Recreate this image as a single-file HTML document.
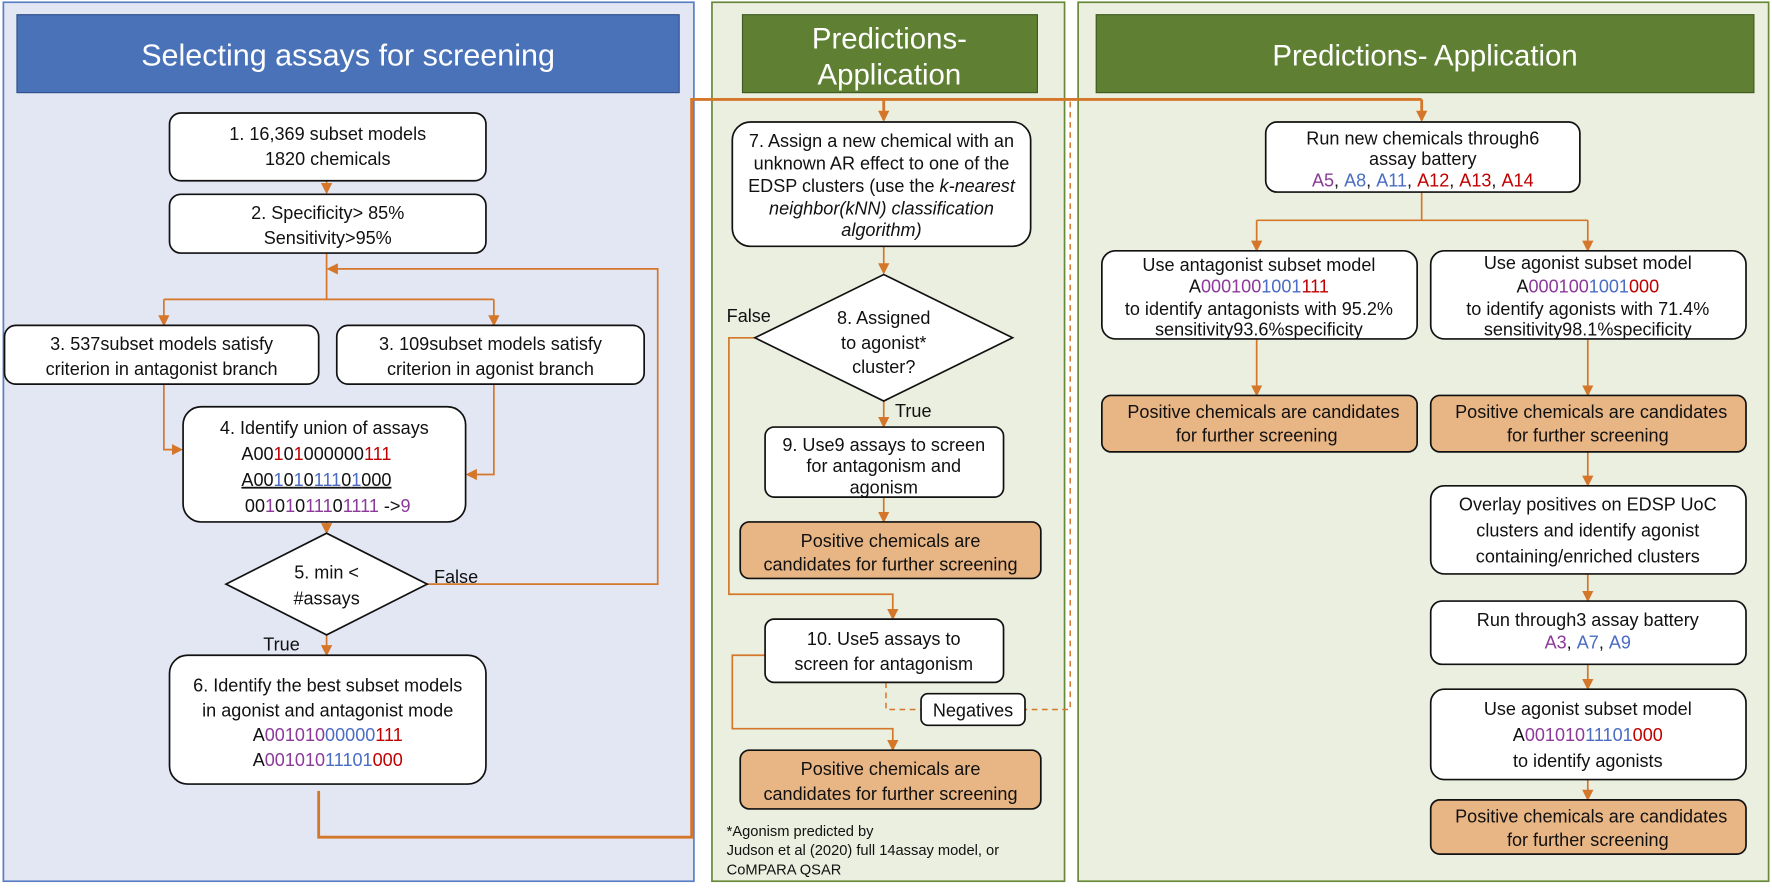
<!DOCTYPE html>
<html><head><meta charset="utf-8"><style>
html,body{margin:0;padding:0;background:#fff;}
svg{display:block;}
text{font-family:"Liberation Sans",Arial,sans-serif;font-size:16px;fill:#111;}
.p{fill:#8b3a9a}.b{fill:#4a6cc4}.r{fill:#c00000}
</style></head><body>
<svg width="1772" height="888" viewBox="0 0 1568 786" preserveAspectRatio="none" xmlns="http://www.w3.org/2000/svg">
<defs>
<marker id="a" markerWidth="10" markerHeight="10" refX="8" refY="5" orient="auto" markerUnits="userSpaceOnUse"><path d="M0,0 L10,5 L0,10 z" fill="#d5772b"/></marker>
</defs>
<rect x="3" y="2" width="611" height="778" fill="#e3e7f3" stroke="#5a7fc4" stroke-width="1.5"/>
<rect x="630" y="2" width="312" height="778" fill="#ebefdf" stroke="#668a3a" stroke-width="1.5"/>
<rect x="954" y="2" width="611" height="778" fill="#ebefdf" stroke="#668a3a" stroke-width="1.5"/>
<rect x="15" y="13" width="586" height="69" fill="#4a72b8" stroke="#2f4f8a"/>
<text x="308" y="58" text-anchor="middle" style="font-size:27px;fill:#fff">Selecting assays for screening</text>
<rect x="657" y="13" width="261" height="69" fill="#5f7f33" stroke="#3f5a20"/>
<text x="787" y="43" text-anchor="middle" style="font-size:26px;fill:#fff">Predictions-</text>
<text x="787" y="75" text-anchor="middle" style="font-size:26px;fill:#fff">Application</text>
<rect x="970" y="13" width="582" height="69" fill="#5f7f33" stroke="#3f5a20"/>
<text x="1261" y="58" text-anchor="middle" style="font-size:26px;fill:#fff">Predictions- Application</text>

<g fill="none" stroke="#d5772b" stroke-width="1.5">
<path d="M289,160 V170" marker-end="url(#a)"/>
<path d="M289,224 V265 M145,265 H437"/>
<path d="M145,265 V287" marker-end="url(#a)"/><path d="M437,265 V287" marker-end="url(#a)"/>
<path d="M145,340 V398 H160" marker-end="url(#a)"/>
<path d="M437,340 V420 H414" marker-end="url(#a)"/>
<path d="M289,462 V471" marker-end="url(#a)"/>
<path d="M378,517 H582 V238 H291" marker-end="url(#a)"/>
<path d="M289,562 V579" marker-end="url(#a)"/>
<path d="M782,218 V241" marker-end="url(#a)"/>
<path d="M782,355 V377" marker-end="url(#a)"/>
<path d="M782,440 V461" marker-end="url(#a)"/>
<path d="M668,299 H645 V526 H790 V547" marker-end="url(#a)"/>
<path d="M677,580 H648 V645 H790 V663" marker-end="url(#a)"/>
<path d="M1258,170 V195 M1112,195 H1405"/>
<path d="M1112,195 V221" marker-end="url(#a)"/><path d="M1405,195 V221" marker-end="url(#a)"/>
<path d="M1112,300 V349" marker-end="url(#a)"/>
<path d="M1405,300 V349" marker-end="url(#a)"/>
<path d="M1405,400 V429" marker-end="url(#a)"/>
<path d="M1405,508 V531" marker-end="url(#a)"/>
<path d="M1405,588 V609" marker-end="url(#a)"/>
<path d="M1405,690 V707" marker-end="url(#a)"/>
</g>
<g fill="none" stroke="#d5772b" stroke-width="2.5">
<path d="M282,700 V741 H612 V88 H1258"/>
<path d="M782,88 V106" marker-end="url(#a)"/>
<path d="M1258,88 V106" marker-end="url(#a)"/>
</g>
<g fill="none" stroke="#d5772b" stroke-width="1.3" stroke-dasharray="5,4">
<path d="M947,90 V628 H907"/>
<path d="M784,604 V628 H815"/>
</g>

<g fill="#fff" stroke="#111" stroke-width="1.5">
<rect x="150" y="100" width="280" height="60" rx="10"/>
<rect x="150" y="172" width="280" height="52" rx="10"/>
<rect x="4" y="288" width="278" height="52" rx="10"/>
<rect x="298" y="288" width="272" height="52" rx="10"/>
<rect x="162" y="360" width="250" height="102" rx="16"/>
<polygon points="200,517 289,472 378,517 289,562"/>
<rect x="150" y="580" width="280" height="114" rx="16"/>
<rect x="648" y="108" width="264" height="110" rx="16"/>
<polygon points="668,299 782,243 896,299 782,355"/>
<rect x="677" y="378" width="211" height="62" rx="8"/>
<rect x="677" y="548" width="211" height="56" rx="8"/>
<rect x="815" y="614" width="92" height="28" rx="6"/>
<rect x="1120" y="108" width="278" height="62" rx="10"/>
<rect x="975" y="222" width="279" height="78" rx="12"/>
<rect x="1266" y="222" width="279" height="78" rx="12"/>
<rect x="1266" y="430" width="279" height="78" rx="12"/>
<rect x="1266" y="532" width="279" height="56" rx="10"/>
<rect x="1266" y="610" width="279" height="80" rx="12"/>
</g>
<g fill="#e8b584" stroke="#111" stroke-width="1.5">
<rect x="655" y="462" width="266" height="50" rx="8"/>
<rect x="655" y="664" width="266" height="52" rx="8"/>
<rect x="975" y="350" width="279" height="50" rx="8"/>
<rect x="1266" y="350" width="279" height="50" rx="8"/>
<rect x="1266" y="708" width="279" height="48" rx="8"/>
</g>

<g text-anchor="middle">
<text x="290" y="124">1. 16,369 subset models</text>
<text x="290" y="146">1820 chemicals</text>
<text x="290" y="194">2. Specificity&gt; 85%</text>
<text x="290" y="216">Sensitivity&gt;95%</text>
<text x="143" y="310">3. 537subset models satisfy</text>
<text x="143" y="332">criterion in antagonist branch</text>
<text x="434" y="310">3. 109subset models satisfy</text>
<text x="434" y="332">criterion in agonist branch</text>
<text x="287" y="384">4. Identify union of assays</text>
<text x="280" y="407">A00<tspan class="r">1</tspan>0<tspan class="r">1</tspan>000000<tspan class="r">111</tspan></text>
<text x="280" y="430" text-decoration="underline">A00<tspan class="b">1</tspan>0<tspan class="b">1</tspan>0<tspan class="b">111</tspan>0<tspan class="b">1</tspan>000</text>
<text x="290" y="453">00<tspan class="p">1</tspan>0<tspan class="p">1</tspan>0<tspan class="p">111</tspan>0<tspan class="p">1111</tspan> -&gt;<tspan class="p">9</tspan></text>
<text x="289" y="512">5. min &lt;</text>
<text x="289" y="535">#assays</text>
<text x="290" y="612">6. Identify the best subset models</text>
<text x="290" y="634">in agonist and antagonist mode</text>
<text x="290" y="656">A<tspan class="p">001010</tspan><tspan class="b">00000</tspan><tspan class="r">111</tspan></text>
<text x="290" y="678">A<tspan class="p">001010</tspan><tspan class="b">11101</tspan><tspan class="r">000</tspan></text>

<text x="780" y="130">7. Assign a new chemical with an</text>
<text x="780" y="150">unknown AR effect to one of the</text>
<text x="780" y="170">EDSP clusters (use the <tspan font-style="italic">k-nearest</tspan></text>
<text x="780" y="190" font-style="italic">neighbor(kNN) classification</text>
<text x="780" y="209" font-style="italic">algorithm)</text>
<text x="782" y="287">8. Assigned</text>
<text x="782" y="309">to agonist*</text>
<text x="782" y="330">cluster?</text>
<text x="782" y="399">9. Use9 assays to screen</text>
<text x="782" y="418">for antagonism and</text>
<text x="782" y="437">agonism</text>
<text x="788" y="484">Positive chemicals are</text>
<text x="788" y="505">candidates for further screening</text>
<text x="782" y="571">10. Use5 assays to</text>
<text x="782" y="593">screen for antagonism</text>
<text x="861" y="634">Negatives</text>
<text x="788" y="686">Positive chemicals are</text>
<text x="788" y="708">candidates for further screening</text>

<text x="1259" y="128">Run new chemicals through6</text>
<text x="1259" y="146">assay battery</text>
<text x="1259" y="165"><tspan class="p">A5</tspan>, <tspan class="b">A8</tspan>, <tspan class="b">A11</tspan>, <tspan class="r">A12</tspan>, <tspan class="r">A13</tspan>, <tspan class="r">A14</tspan></text>
<text x="1114" y="240">Use antagonist subset model</text>
<text x="1114" y="259">A<tspan class="p">000</tspan><tspan class="p">100</tspan><tspan class="b">1001</tspan><tspan class="r">111</tspan></text>
<text x="1114" y="279">to identify antagonists with 95.2%</text>
<text x="1114" y="297">sensitivity93.6%specificity</text>
<text x="1405" y="238">Use agonist subset model</text>
<text x="1405" y="259">A<tspan class="p">000</tspan><tspan class="p">100</tspan><tspan class="b">1001</tspan><tspan class="r">000</tspan></text>
<text x="1405" y="279">to identify agonists with 71.4%</text>
<text x="1405" y="297">sensitivity98.1%specificity</text>
<text x="1118" y="370">Positive chemicals are candidates</text>
<text x="1112" y="391">for further screening</text>
<text x="1408" y="370">Positive chemicals are candidates</text>
<text x="1405" y="391">for further screening</text>
<text x="1405" y="452">Overlay positives on EDSP UoC</text>
<text x="1405" y="475">clusters and identify agonist</text>
<text x="1405" y="498">containing/enriched clusters</text>
<text x="1405" y="554">Run through3 assay battery</text>
<text x="1405" y="574"><tspan class="p">A3</tspan>,  <tspan class="b">A7</tspan>, <tspan class="b">A9</tspan></text>
<text x="1405" y="633">Use agonist subset model</text>
<text x="1405" y="656">A<tspan class="p">001010</tspan><tspan class="b">11101</tspan><tspan class="r">000</tspan></text>
<text x="1405" y="679">to identify agonists</text>
<text x="1408" y="728">Positive chemicals are candidates</text>
<text x="1405" y="749">for further screening</text>
</g>
<text x="384" y="516">False</text>
<text x="233" y="576">True</text>
<text x="643" y="285">False</text>
<text x="792" y="369">True</text>
<text x="643" y="740" style="font-size:13px">*Agonism predicted by</text>
<text x="643" y="757" style="font-size:13px">Judson et al (2020) full  14assay model, or</text>
<text x="643" y="774" style="font-size:13px">CoMPARA QSAR</text>
</svg>
</body></html>
